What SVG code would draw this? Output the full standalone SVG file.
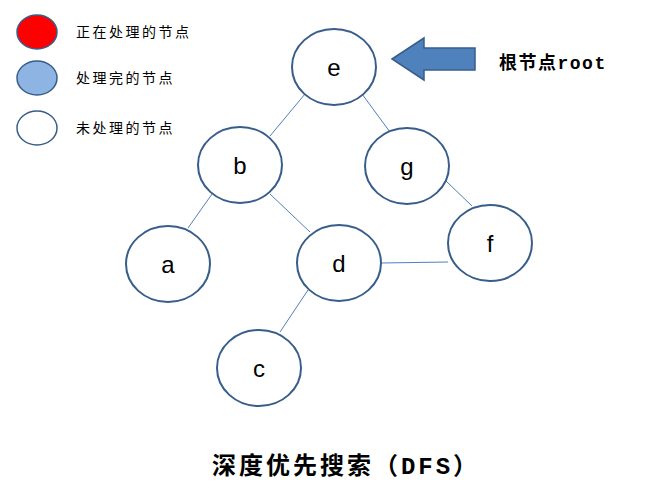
<svg xmlns="http://www.w3.org/2000/svg" width="667" height="496" viewBox="0 0 667 496">
<style>
.n{fill:#fff;stroke:#385d8a;stroke-width:2}
.t{font-family:"Liberation Sans",sans-serif;font-size:24px;fill:#000;text-anchor:middle}
.l{font-family:"Noto Sans CJK SC",sans-serif;font-size:14px;letter-spacing:2.5px;fill:#000}
.e{stroke:#4f81bd;stroke-width:1;fill:none}
</style>
<rect width="667" height="496" fill="#fff"/>
<g id="legend">
<ellipse cx="37" cy="32" rx="20" ry="17" fill="#ff0000" stroke="#385d8a" stroke-width="1.5"/>
<ellipse cx="37" cy="78" rx="20" ry="17" fill="#8eb4e3" stroke="#385d8a" stroke-width="1.5"/>
<ellipse cx="37" cy="128" rx="20" ry="17" fill="#fff" stroke="#385d8a" stroke-width="1.5"/>
<text class="l" x="76" y="37">正在处理的节点</text>
<text class="l" x="76" y="83">处理完的节点</text>
<text class="l" x="76" y="133">未处理的节点</text>
</g>
<g id="connectors">
<line class="e" x1="305" y1="94" x2="270" y2="136"/>
<line class="e" x1="362" y1="94" x2="390" y2="132"/>
<line class="e" x1="212" y1="194" x2="188" y2="228"/>
<line class="e" x1="270" y1="194" x2="310" y2="232"/>
<line class="e" x1="445" y1="180" x2="472" y2="206"/>
<line class="e" x1="381" y1="263" x2="448" y2="262"/>
<line class="e" x1="308" y1="290" x2="280" y2="332"/>
</g>
<g id="e"><ellipse class="n" cx="334" cy="67" rx="42" ry="38"/><text class="t" x="334" y="76">e</text></g>
<g id="b"><ellipse class="n" cx="240" cy="165" rx="42" ry="38"/><text class="t" x="240" y="174">b</text></g>
<g id="g"><ellipse class="n" cx="407" cy="166" rx="42" ry="38"/><text class="t" x="407" y="175">g</text></g>
<g id="a"><ellipse class="n" cx="168" cy="264" rx="42" ry="38"/><text class="t" x="168" y="273">a</text></g>
<g id="d"><ellipse class="n" cx="339" cy="263" rx="42" ry="38"/><text class="t" x="339" y="272">d</text></g>
<g id="f"><ellipse class="n" cx="490" cy="243" rx="42" ry="38"/><text class="t" x="490" y="252">f</text></g>
<g id="c"><ellipse class="n" cx="259" cy="368" rx="42" ry="38"/><text class="t" x="259" y="377">c</text></g>
<g id="root">
<polygon points="392,59 424,38 424,48 475,48 475,70 424,70 424,80" fill="#4f81bd" stroke="#385d8a" stroke-width="1.5"/>
<text x="499" y="69" font-family="Noto Sans CJK SC,sans-serif" font-size="18" font-weight="bold" letter-spacing="1.5">根节点<tspan font-family="Liberation Mono,monospace">root</tspan></text>
</g>
<text x="346" y="474" text-anchor="middle" font-family="Noto Sans CJK SC,sans-serif" font-size="24" font-weight="bold" letter-spacing="3">深度优先搜索（<tspan font-family="Liberation Mono,monospace">DFS</tspan>）</text>
</svg>
